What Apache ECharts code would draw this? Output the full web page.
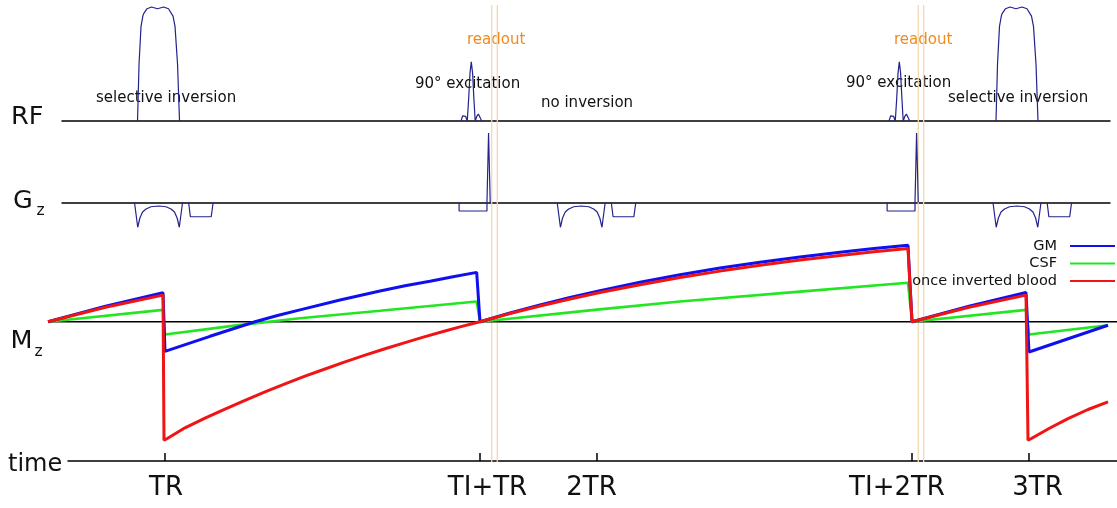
<!DOCTYPE html>
<html><head><meta charset="utf-8">
<script src="https://cdn.jsdelivr.net/npm/echarts@6/dist/echarts.min.js"></script>
<style>html,body{margin:0;padding:0;background:#fff}#c{width:1117px;height:508px}</style>
</head><body><div id="c"></div>
<script>
// ---------------- data (time in units of TR) ----------------
const TR = 1;
const TI = 0.7292;
const timeTickValues = [TR, TI + TR, 2 * TR, TI + 2 * TR, 3 * TR];
const timeTickLabels = ['TR', 'TI+TR', '2TR', 'TI+2TR', '3TR'];

// slice-selective events (inversion pulse + gradient), whether RF inversion is applied
const sliceTimes = [0.985, 1.9634, 2.9722];
const sliceInverted = [true, false, true];
const excitationTimes = [1.709, 2.6998];
const readoutTimes = [1.7563, 1.7692, 2.7437, 2.7562];

// RF inversion pulse shape (time offset, relative amplitude)
const invPulseDt  = [-0.0486, -0.0451, -0.0405, -0.0363, -0.0347, -0.0266, -0.0162, -0.0023, 0.0116, 0.0231, 0.0336, 0.0382, 0.0440, 0.0486];
const invPulseAmp = [0, 0.5, 0.83, 0.92, 0.94, 0.985, 1.0, 0.985, 1.0, 0.985, 0.92, 0.83, 0.5, 0];
// 90° excitation sinc pulse
const sincDt  = [-0.0238, -0.0201, -0.0167, -0.0130, -0.0093, -0.0060, -0.0030, 0, 0.0030, 0.0060, 0.0090, 0.0127, 0.0164, 0.0201, 0.0241];
const sincAmp = [0, 0.045, 0.061, 0.04, 0, 0.2, 0.42, 0.52, 0.42, 0.2, 0, 0.04, 0.061, 0.045, 0];
// Gz slice-select lobe and spoiler trapezoid
const gzLobeDt  = [-0.0556, -0.0481, -0.0431, -0.0370, -0.0289, -0.0174, 0, 0.0174, 0.0289, 0.0370, 0.0431, 0.0481, 0.0556];
const gzLobeAmp = [0, -0.99, -0.62, -0.38, -0.26, -0.17, -0.14, -0.17, -0.26, -0.38, -0.62, -0.99, 0];
const gzTrapDt  = [0.0697, 0.0738, 0.1220, 0.1264];
const gzTrapAmp = [0, -0.57, -0.57, 0];
// Gz at excitation: negative block then spike
const gzExcDt  = [-0.0282, -0.0282, 0.0363, 0.0363, 0.0400, 0.0438];
const gzExcAmp = [0, -0.34, -0.34, 0, 2.78, 0];

// Mz curves [time, Mz]
const gmData = [[0.7292,0],[0.8623,0.135],[0.9954,0.25],[1.0,-0.255],[1.0521,-0.19],[1.1042,-0.125],[1.1563,-0.062],[1.2083,0],[1.2604,0.054],[1.3125,0.103],[1.4051,0.188],[1.4977,0.266],[1.5556,0.31],[1.6134,0.35],[1.6667,0.389],[1.7215,0.426],[1.7292,0],[1.7986,0.076],[1.8681,0.146],[1.9375,0.21],[2.0069,0.269],[2.0995,0.341],[2.1921,0.405],[2.2847,0.463],[2.3773,0.514],[2.4699,0.559],[2.5625,0.6],[2.6412,0.632],[2.7199,0.66],[2.7292,0],[2.8611,0.135],[2.9931,0.253],[3.0,-0.26],[3.1829,-0.03]];
const csfData = [[0.7292,0],[0.9954,0.103],[1.0,-0.11],[1.1563,-0.035],[1.3125,0.03],[1.4977,0.095],[1.7215,0.175],[1.7292,0],[2.0,0.105],[2.1921,0.175],[2.4699,0.26],[2.7199,0.337],[2.7292,0],[2.9931,0.103],[3.0,-0.11],[3.1829,-0.03]];
const bloodData = [[0.7292,0],[0.8623,0.125],[0.9954,0.23],[0.9977,-1.02],[1.0035,-1.01],[1.0463,-0.914],[1.0926,-0.831],[1.1389,-0.752],[1.1852,-0.677],[1.2315,-0.605],[1.2778,-0.536],[1.3241,-0.469],[1.3704,-0.407],[1.4167,-0.345],[1.463,-0.287],[1.5093,-0.232],[1.5556,-0.179],[1.6019,-0.128],[1.6481,-0.079],[1.6829,-0.044],[1.7292,0],[1.7986,0.071],[1.8681,0.136],[1.9375,0.196],[2.0069,0.253],[2.0995,0.32],[2.1921,0.382],[2.2847,0.437],[2.3773,0.487],[2.4699,0.532],[2.5625,0.572],[2.6412,0.603],[2.7199,0.631],[2.7292,0],[2.8611,0.125],[2.9931,0.23],[2.9977,-1.02],[3.0035,-1.01],[3.0463,-0.92],[3.0903,-0.835],[3.1366,-0.756],[3.1829,-0.69]];

// ---------------- build ----------------
function place(centers, dts, amps, mask) {
  const out = [];
  centers.forEach((c, k) => {
    if (mask && !mask[k]) return;
    dts.forEach((d, i) => out.push([c + d, amps[i]]));
    out.push(['-', '-']);
  });
  return out;
}
const rfData = place(sliceTimes, invPulseDt, invPulseAmp, sliceInverted).concat(place(excitationTimes, sincDt, sincAmp));
const gzData = place(sliceTimes, gzLobeDt, gzLobeAmp)
  .concat(place(sliceTimes, gzTrapDt, gzTrapAmp))
  .concat(place(excitationTimes, gzExcDt, gzExcAmp));
const readoutData = [];
readoutTimes.forEach(t => { readoutData.push([t, 0], [t, 1], ['-', '-']); });

// layout: pixel x = 165 + (t - TR) * 432
const W = 1117, X0 = 165, PX = 432;
function xr(left, right) { return { min: TR + (left - X0) / PX, max: TR + (W - right - X0) / PX }; }
const FONT = 'DejaVu Sans';
const INK = '#111';
const PULSE = '#23238e';
const labelShift = [1, 7.5, -5.5, -15, 8.5];
const rich = {};
labelShift.forEach((d, i) => {
  rich['s' + i] = { fontSize: 26, fontFamily: FONT, color: INK, padding: d > 0 ? [0, 0, 0, 2 * d] : [0, -2 * d, 0, 0] };
});

const hiddenX = (gi, r, showLine) => Object.assign({
  type: 'value', gridIndex: gi, show: true,
  axisLine: { show: !!showLine, onZero: true, lineStyle: { color: '#000', width: 1.5 } },
  axisTick: { show: false }, axisLabel: { show: false }, splitLine: { show: false }
}, r);

const chart = echarts.init(document.getElementById('c'), null, { renderer: 'canvas' });
chart.setOption({
  animation: false,
  backgroundColor: '#fff',
  grid: [
    { left: 62, right: 7, top: 7, bottom: 387 },   // RF
    { left: 62, right: 7, top: 130, bottom: 278 }, // Gz
    { left: 48, right: 0, top: 229, bottom: 47 },  // Mz
    { left: 0, right: 0, top: 5, bottom: 46 },     // readout overlay
    { left: 68, right: 0, top: 400, bottom: 47 }   // time axis
  ],
  xAxis: [
    hiddenX(0, xr(62, 7), true),
    hiddenX(1, xr(62, 7), true),
    hiddenX(2, xr(48, 0), false),
    Object.assign({ type: 'value', gridIndex: 3, show: false }, xr(0, 0)),
    Object.assign({
      type: 'value', gridIndex: 4, position: 'bottom',
      axisLine: { show: true, onZero: false, lineStyle: { color: '#000', width: 1.5 } },
      axisTick: { show: true, inside: true, length: 8, customValues: timeTickValues, lineStyle: { color: '#000', width: 1.5 } },
      axisLabel: {
        show: true, customValues: timeTickValues, margin: 14,
        formatter: v => {
          let k = 0, best = 1e9;
          timeTickValues.forEach((tv, i) => { if (Math.abs(tv - v) < best) { best = Math.abs(tv - v); k = i; } });
          return '{s' + k + '|' + timeTickLabels[k] + '}';
        },
        rich: rich
      },
      splitLine: { show: false }
    }, xr(68, 0))
  ],
  yAxis: [
    { type: 'value', gridIndex: 0, show: false, min: 0, max: 1 },
    { type: 'value', gridIndex: 1, show: false, min: -1.1, max: 2.9 },
    { type: 'value', gridIndex: 2, show: false, min: -1.2, max: 0.8 },
    { type: 'value', gridIndex: 3, show: false, min: 0, max: 1 },
    { type: 'value', gridIndex: 4, show: false, min: 0, max: 1 }
  ],
  legend: {
    orient: 'vertical', right: 2, top: 238.5, align: 'right', padding: 0,
    icon: 'rect', itemWidth: 45, itemHeight: 2.2, itemGap: 2.5,
    textStyle: { fontFamily: FONT, fontSize: 14.5, color: INK, padding: [0, 8, 0, 0] },
    data: ['GM', 'CSF', 'once inverted blood'],
    selectedMode: false
  },
  graphic: [
    { type: 'text', x: 11, y: 117.5, style: { text: 'RF', fontFamily: FONT, fontSize: 25.5, fill: INK, align: 'left', verticalAlign: 'middle' } },
    { type: 'text', x: 13, y: 201.5, style: { text: 'G', fontFamily: FONT, fontSize: 25.5, fill: INK, align: 'left', verticalAlign: 'middle' } },
    { type: 'text', x: 36.5, y: 211, style: { text: 'z', fontFamily: FONT, fontSize: 15.5, fill: INK, align: 'left', verticalAlign: 'middle' } },
    { type: 'text', x: 10.5, y: 341, style: { text: 'M', fontFamily: FONT, fontSize: 25.5, fill: INK, align: 'left', verticalAlign: 'middle' } },
    { type: 'text', x: 34.5, y: 352, style: { text: 'z', fontFamily: FONT, fontSize: 15.5, fill: INK, align: 'left', verticalAlign: 'middle' } },
    { type: 'text', x: 8, y: 465, style: { text: 'time', fontFamily: FONT, fontSize: 24, fill: INK, align: 'left', verticalAlign: 'middle' } },
    { type: 'text', x: 96, y: 98, style: { text: 'selective inversion', fontFamily: FONT, fontSize: 15, fill: INK, align: 'left', verticalAlign: 'middle' } },
    { type: 'text', x: 415, y: 83.8, style: { text: '90° excitation', fontFamily: FONT, fontSize: 15, fill: INK, align: 'left', verticalAlign: 'middle' } },
    { type: 'text', x: 467, y: 40.5, style: { text: 'readout', fontFamily: FONT, fontSize: 15, fill: '#ee8c22', align: 'left', verticalAlign: 'middle' } },
    { type: 'text', x: 541, y: 102.8, style: { text: 'no inversion', fontFamily: FONT, fontSize: 15, fill: INK, align: 'left', verticalAlign: 'middle' } },
    { type: 'text', x: 894, y: 39.8, style: { text: 'readout', fontFamily: FONT, fontSize: 15, fill: '#ee8c22', align: 'left', verticalAlign: 'middle' } },
    { type: 'text', x: 846, y: 82.8, style: { text: '90° excitation', fontFamily: FONT, fontSize: 15, fill: INK, align: 'left', verticalAlign: 'middle' } },
    { type: 'text', x: 948, y: 98, style: { text: 'selective inversion', fontFamily: FONT, fontSize: 15, fill: INK, align: 'left', verticalAlign: 'middle' } }
  ],
  series: [
    { name: 'readout', type: 'line', xAxisIndex: 3, yAxisIndex: 3, data: readoutData, symbol: 'none', silent: true, z: 1,
      lineStyle: { color: '#f1d9b0', width: 1.3 } },
    { name: 'RF', type: 'line', xAxisIndex: 0, yAxisIndex: 0, data: rfData, symbol: 'none', silent: true, clip: false, z: 3,
      lineStyle: { color: PULSE, width: 1.2 } },
    { name: 'Gz', type: 'line', xAxisIndex: 1, yAxisIndex: 1, data: gzData, symbol: 'none', silent: true, clip: false, z: 3,
      lineStyle: { color: PULSE, width: 1.2 } },
    { name: 'zero', type: 'line', xAxisIndex: 2, yAxisIndex: 2, data: [[TI, 0], [3.3, 0]], symbol: 'none', silent: true, clip: false, z: 2,
      lineStyle: { color: '#000', width: 1.5 } },
    { name: 'CSF', type: 'line', xAxisIndex: 2, yAxisIndex: 2, data: csfData, symbol: 'none', silent: true, clip: false, z: 4,
      color: '#22e622', lineStyle: { color: '#22e622', width: 2.6 } },
    { name: 'GM', type: 'line', xAxisIndex: 2, yAxisIndex: 2, data: gmData, symbol: 'none', silent: true, clip: false, z: 5,
      color: '#1010ee', lineStyle: { color: '#1010ee', width: 3 } },
    { name: 'once inverted blood', type: 'line', xAxisIndex: 2, yAxisIndex: 2, data: bloodData, symbol: 'none', silent: true, clip: false, z: 6,
      color: '#f01414', lineStyle: { color: '#f01414', width: 3 } }
  ]
});
</script></body></html>
